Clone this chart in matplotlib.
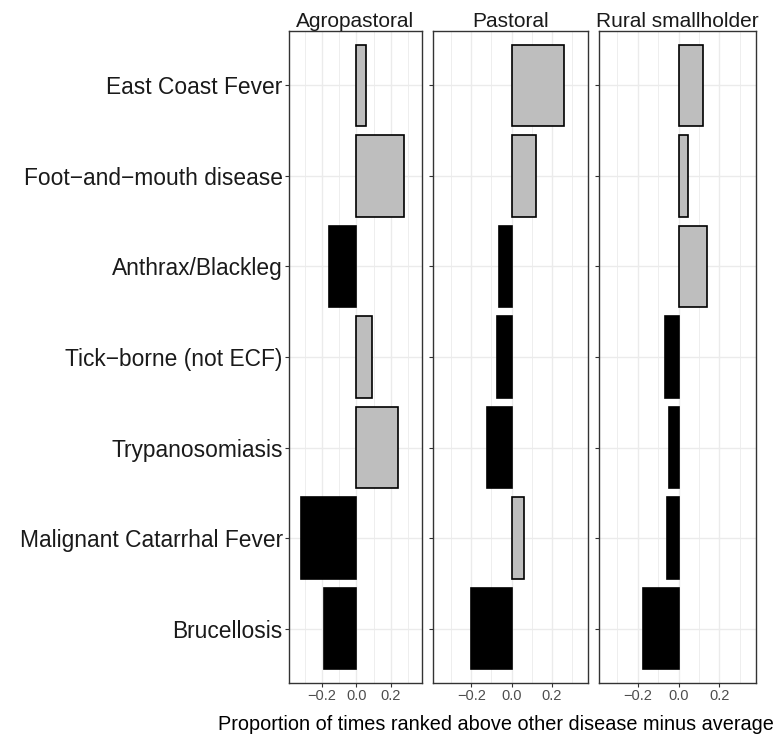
import numpy as np
import matplotlib
matplotlib.use("Agg")
import matplotlib.pyplot as plt
from matplotlib.ticker import MultipleLocator

plt.rcParams['font.family'] = ['Liberation Sans', 'DejaVu Sans']

diseases = ["East Coast Fever", "Foot\u2212and\u2212mouth disease", "Anthrax/Blackleg",
            "Tick\u2212borne (not ECF)", "Trypanosomiasis", "Malignant Catarrhal Fever",
            "Brucellosis"]
systems = ["Agropastoral", "Pastoral", "Rural smallholder"]

# proportion of times ranked above other disease minus average
agropastoral = [0.056, 0.276, -0.156, 0.092, 0.243, -0.318, -0.190]
pastoral = [0.262, 0.122, -0.063, -0.072, -0.122, 0.062, -0.202]
rural = [0.118, 0.048, 0.140, -0.065, -0.047, -0.057, -0.175]
values = [agropastoral, pastoral, rural]

W, H = 775, 739
fig = plt.figure(figsize=(W / 100, H / 100), dpi=100)

# panel edges in pixels (left, right)
edges = [(289, 422), (433, 588), (599, 756)]
top, bottom = 31, 683

y = np.arange(len(diseases))[::-1]
grid_col = '#EBEBEB'

for i, (name, vals) in enumerate(zip(systems, values)):
    l, r = edges[i]
    ax = fig.add_axes([l / W, 1 - bottom / H, (r - l) / W, (bottom - top) / H])
    vals = np.array(vals)
    cols = np.where(vals >= 0, '#BEBEBE', 'black')
    ax.barh(y, vals, height=0.9, color=cols, edgecolor='black', linewidth=1.2, zorder=3)
    ax.set_xlim(-0.39, 0.38)
    ax.set_ylim(-0.6, len(diseases) - 0.4)
    ax.xaxis.set_minor_locator(MultipleLocator(0.1))
    ax.set_xticks([-0.2, 0.0, 0.2])
    ax.set_xticklabels(['\u22120.2', '0.0', '0.2'], fontsize=10.5, color='#4D4D4D')
    ax.grid(True, which='major', color=grid_col, linewidth=1.0, zorder=0)
    ax.grid(True, which='minor', axis='x', color=grid_col, linewidth=0.6, zorder=0)
    ax.set_yticks(y)
    if i == 0:
        ax.set_yticklabels(diseases, fontsize=16.4, color='#1A1A1A')
    else:
        ax.set_yticklabels([])
    ax.tick_params(axis='both', which='major', length=3, width=0.8, color='#333333', pad=1.5)
    ax.tick_params(axis='x', which='minor', length=0)
    for s in ax.spines.values():
        s.set_color('#333333')
        s.set_linewidth(1.0)
    ax.set_title(name, fontsize=15, color='#1A1A1A', pad=2)

fig.text(496 / W, 1 - 724 / H, "Proportion of times ranked above other disease minus average",
         ha='center', va='center', fontsize=14.3, color='black')

fig.savefig("out.png", dpi=100)
